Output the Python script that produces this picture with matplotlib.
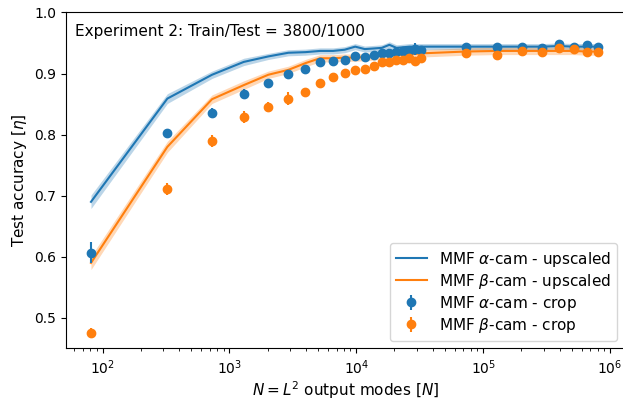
import matplotlib
matplotlib.use("Agg")
import matplotlib.pyplot as plt
import numpy as np

# side length L of the output grid, N = L^2
L_vals = [9, 18, 27, 36, 45, 54, 63, 72, 81, 90, 99, 108, 117, 126, 135, 144,
          153, 162, 171, 180, 270, 360, 450, 540, 630, 720, 810, 900]

alpha_up = [0.690, 0.859, 0.898, 0.919, 0.928, 0.934, 0.935, 0.937, 0.937, 0.939,
            0.944, 0.940, 0.941, 0.942, 0.947, 0.942, 0.943, 0.944, 0.944, 0.944,
            0.944, 0.944, 0.944, 0.944, 0.945, 0.944, 0.944, 0.944]
alpha_up_sd = [0.011, 0.008, 0.006, 0.006, 0.005, 0.005, 0.005, 0.005, 0.005, 0.005,
               0.005, 0.005, 0.005, 0.005, 0.005, 0.005, 0.005, 0.005, 0.005, 0.005,
               0.005, 0.005, 0.005, 0.005, 0.005, 0.005, 0.005, 0.005]

beta_up = [0.590, 0.780, 0.858, 0.881, 0.898, 0.906, 0.917, 0.925, 0.925, 0.926,
           0.926, 0.927, 0.928, 0.929, 0.930, 0.930, 0.931, 0.932, 0.932, 0.933,
           0.936, 0.937, 0.937, 0.937, 0.937, 0.937, 0.936, 0.936]
beta_up_sd = [0.011, 0.009, 0.007, 0.007, 0.006, 0.006, 0.006, 0.006, 0.006, 0.006,
              0.006, 0.006, 0.006, 0.006, 0.006, 0.006, 0.006, 0.006, 0.006, 0.006,
              0.006, 0.006, 0.006, 0.006, 0.006, 0.006, 0.006, 0.006]

alpha_crop = [0.607, 0.802, 0.836, 0.866, 0.885, 0.900, 0.908, 0.919, 0.921, 0.922,
              0.929, 0.927, 0.930, 0.934, 0.934, 0.936, 0.937, 0.937, 0.940, 0.939,
              0.944, 0.944, 0.944, 0.941, 0.948, 0.944, 0.947, 0.943]
alpha_crop_err = [0.017, 0.008, 0.008, 0.008, 0.006, 0.005, 0.004, 0.004, 0.004, 0.004,
                  0.004, 0.004, 0.004, 0.004, 0.004, 0.004, 0.004, 0.004, 0.010, 0.004,
                  0.004, 0.004, 0.004, 0.004, 0.004, 0.004, 0.004, 0.004]

beta_crop = [0.476, 0.711, 0.790, 0.829, 0.845, 0.859, 0.869, 0.885, 0.894, 0.901,
             0.906, 0.908, 0.913, 0.919, 0.919, 0.922, 0.922, 0.925, 0.920, 0.926,
             0.933, 0.931, 0.937, 0.936, 0.941, 0.940, 0.936, 0.936]
beta_crop_err = [0.008, 0.010, 0.010, 0.010, 0.008, 0.010, 0.006, 0.005, 0.005, 0.005,
                 0.005, 0.005, 0.005, 0.005, 0.005, 0.005, 0.005, 0.005, 0.007, 0.005,
                 0.005, 0.005, 0.005, 0.005, 0.005, 0.005, 0.005, 0.005]

N = np.array(L_vals) ** 2

plt.rcParams['font.size'] = 11
plt.rcParams['xtick.labelsize'] = 10
plt.rcParams['ytick.labelsize'] = 10

fig = plt.figure(figsize=(6.23, 4.01), dpi=100)
# right spine sits just past the image edge, as in the reference crop
ax = fig.add_axes([0.106, 0.131, 0.897, 0.838])

for y, sd, c, lab in [(alpha_up, alpha_up_sd, 'tab:blue', r'MMF $\alpha$-cam - upscaled'),
                      (beta_up, beta_up_sd, 'tab:orange', r'MMF $\beta$-cam - upscaled')]:
    y = np.array(y)
    sd = np.array(sd)
    ax.plot(N, y, color=c, lw=1.5, label=lab)
    ax.fill_between(N, y - sd, y + sd, color=c, alpha=0.3, lw=0)

ax.errorbar(N, alpha_crop, yerr=alpha_crop_err, fmt='o', color='tab:blue',
            label=r'MMF $\alpha$-cam - crop')
ax.errorbar(N, beta_crop, yerr=beta_crop_err, fmt='o', color='tab:orange',
            label=r'MMF $\beta$-cam - crop')

ax.set_xscale('log')
ax.set_xlim(51.5, 1.31e6)
ax.set_ylim(0.45, 1.0)
ax.set_xlabel(r'$N = L^2$ output modes [$N$]', labelpad=2)
ax.set_ylabel(r'Test accuracy [$\eta$]')
ax.text(0.016, 0.965, 'Experiment 2: Train/Test = 3800/1000', transform=ax.transAxes,
        va='top', ha='left')
ax.legend(loc='lower right', labelspacing=0.2)

fig.savefig('out.png', dpi=100)
